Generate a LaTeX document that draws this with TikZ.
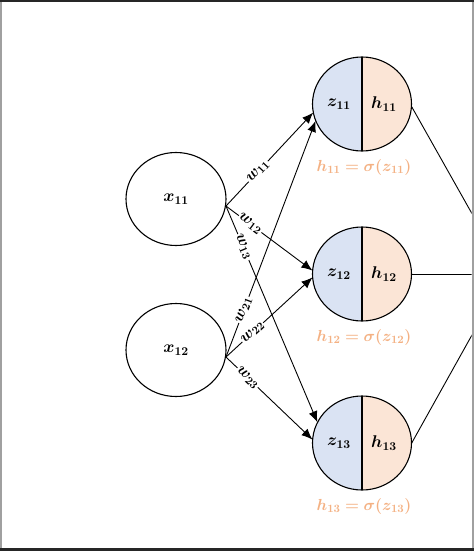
\RequirePackage{fix-cm}
\documentclass[tikz,border=0pt]{standalone}
\usepackage{amsmath}
\usepackage{bm}
\usetikzlibrary{shapes.geometric,arrows.meta}
\definecolor{zblue}{HTML}{DAE3F3}
\definecolor{horange}{HTML}{FBE5D6}
\definecolor{lbl}{HTML}{F4B183}
\definecolor{framedark}{HTML}{262626}
\definecolor{framegray}{HTML}{A0A0A0}
\begin{document}
\begin{tikzpicture}[x=1pt,y=-1pt,
  inp/.style={ellipse,draw,line width=1.1pt,minimum width=100pt,minimum height=93pt,inner sep=0pt,font=\fontsize{17}{20}\selectfont},
  hid/.style={ellipse,minimum width=99pt,minimum height=94pt,inner sep=0pt},
  arr/.style={line width=0.9pt,-{Latex[length=11pt,width=9pt]}},
  wl/.style={sloped,fill=white,inner sep=0.6pt,font=\fontsize{16}{19}\selectfont},
  nt/.style={inner sep=0pt,font=\fontsize{17}{20}\selectfont},
  eq/.style={inner sep=0pt,text=lbl,font=\fontsize{16}{19}\selectfont},
  outl/.style={line width=0.9pt}]
\useasboundingbox (0,0) rectangle (474,551);
\fill[white] (0,0) rectangle (474,551);

% input nodes
\node[inp] (x1) at (176,199) {$\bm{x_{11}}$};
\node[inp] (x2) at (176,350) {$\bm{x_{12}}$};

% hidden nodes
\foreach \i/\y in {1/104,2/274,3/443}{
  \node[hid] (h\i) at (362,\y) {};
  \begin{scope}
    \clip (h\i.center) ellipse [x radius=49.5pt, y radius=47pt];
    \fill[zblue] (h\i.west |- h\i.north) rectangle (h\i.south);
    \fill[horange] (h\i.north) rectangle (h\i.east |- h\i.south);
  \end{scope}
  \draw[line width=1.1pt] (h\i.center) ellipse [x radius=49.5pt, y radius=47pt];
  \draw[line width=1.1pt] (h\i.north) -- (h\i.south);
  \node[nt] (z\i t) at (339,\y) {$\bm{z_{1\i}}$};
  \node[nt] (h\i t) at (384,\y) {$\bm{h_{1\i}}$};
  \node[eq] (e\i) at (364,\y+63) {$\bm{h_{1\i}=\sigma(z_{1\i})}$};
}

% weighted connections
\draw[arr] (x1.-8) -- node[wl,pos=0.37] {$\bm{w_{11}}$} (h1.190);
\draw[arr] (x1.-8) -- node[wl,pos=0.28] {$\bm{w_{12}}$} (h2.176);
\draw[arr] (x1.-8) -- node[wl,pos=0.19] {$\bm{w_{13}}$} (h3.155);
\draw[arr] (x2.-8) -- node[wl,pos=0.20] {$\bm{w_{21}}$} (h1.200);
\draw[arr] (x2.-8) -- node[wl,pos=0.31] {$\bm{w_{22}}$} (h2.184);
\draw[arr] (x2.-8) -- node[wl,pos=0.25] {$\bm{w_{23}}$} (h3.176);

% outputs to the (cropped) next node
\coordinate (o) at (506,274);
\begin{scope}
  \clip (2,2.5) rectangle (471.5,547.5);
  \draw[outl] (h1.-3) -- (o);
  \draw[outl] (h2.east) -- (o);
  \draw[outl] (h3.east) -- (o);
\end{scope}

% frame
\fill[framegray] (0,0) rectangle (2,551);
\fill[framegray] (471.5,0) rectangle (474,551);
\fill[framedark] (0,0) rectangle (474,2.5);
\fill[framedark] (0,547.5) rectangle (474,551);
\end{tikzpicture}
\end{document}
